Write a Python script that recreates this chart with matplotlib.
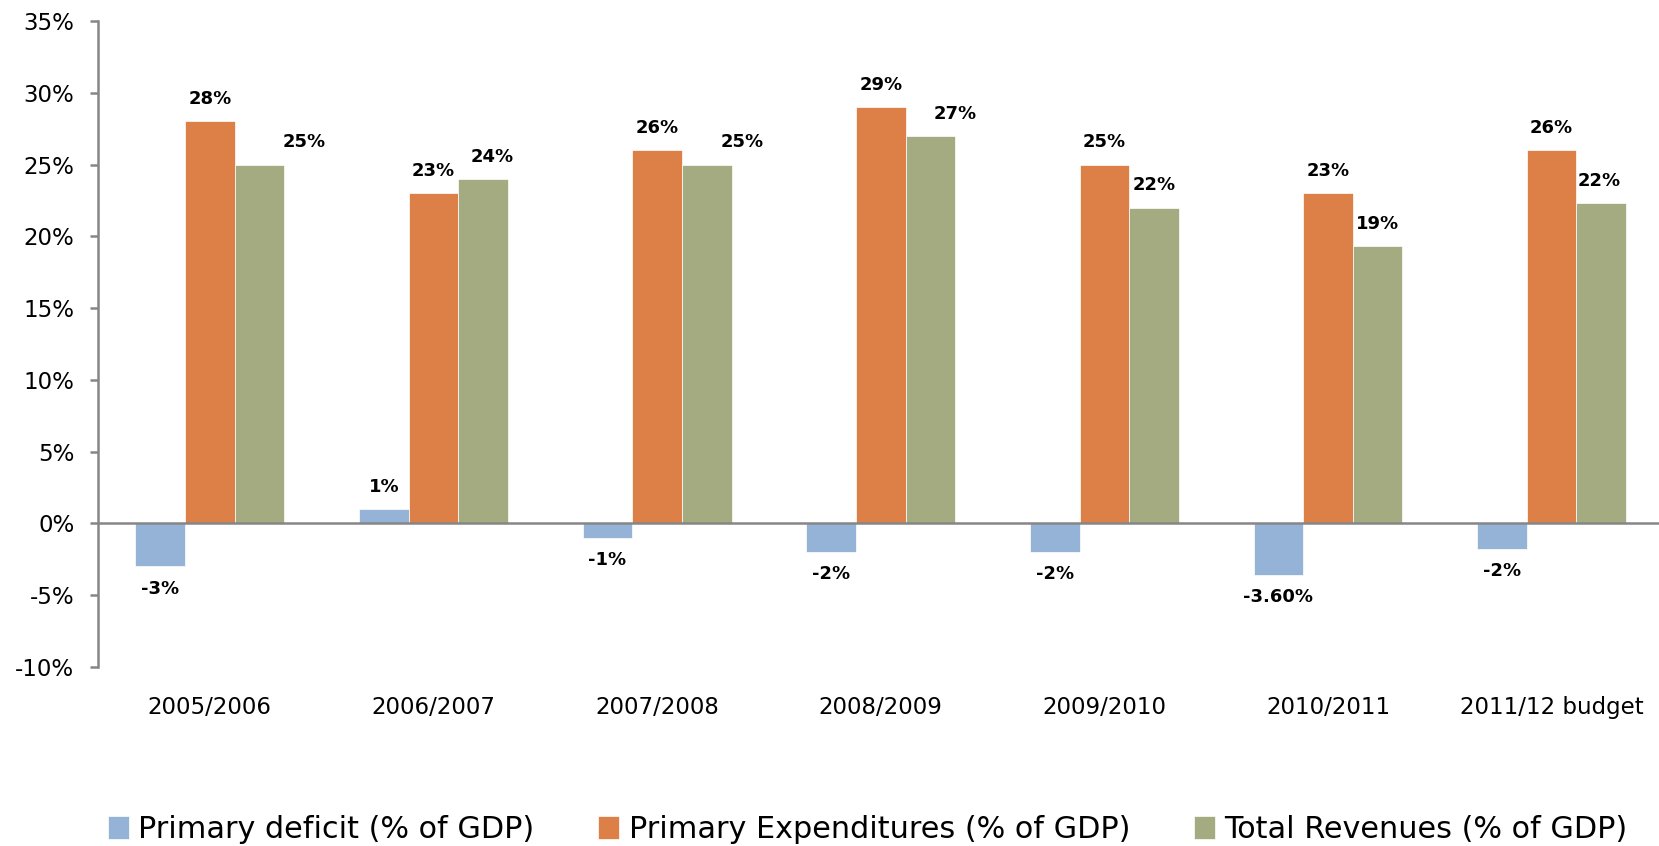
# Import our modules that we are using
import matplotlib
matplotlib.use('Agg')
import matplotlib.pyplot as plt
import numpy as np

# Data
years = ['2005/2006', '2006/2007', '2007/2008', '2008/2009', '2009/2010', '2010/2011', '2011/12 budget']
deficit = [-3.0, 1.0, -1.0, -2.0, -2.0, -3.6, -1.8]
expend = [28, 23, 26, 29, 25, 23, 26]
revenue = [25, 24, 25, 27, 22, 19.3, 22.3]
deficit_lbl = ['-3%', '1%', '-1%', '-2%', '-2%', '-3.60%', '-2%']
expend_lbl = ['28%', '23%', '26%', '29%', '25%', '23%', '26%']
revenue_lbl = ['25%', '24%', '25%', '27%', '22%', '19%', '22%']
yticks = [-10, -5, 0, 5, 10, 15, 20, 25, 30, 35]

# Label nudges (in category units) for the revenue labels
rev_shift = [0.20, 0.04, 0.16, 0.11, 0.0, 0.0, -0.01]

names = ['Primary deficit (% of GDP)', 'Primary Expenditures (% of GDP)', 'Total Revenues (% of GDP)']
colors = ['#95B3D7', '#DD8047', '#A5AB81']
grey = '#868686'

fig = plt.figure(figsize=(16.59, 8.46), dpi=100)
ax = fig.add_axes([0.0591, 0.2116, 0.9409, 0.7636])

x = np.arange(len(years))
w = 0.222
series = [deficit, expend, revenue]
labels = [deficit_lbl, expend_lbl, revenue_lbl]

for k in range(3):
  pos = x + (k - 1) * w
  ax.bar(pos, series[k], w, color=colors[k], edgecolor='white', linewidth=0.5, label=names[k], zorder=2)
  for i in range(len(years)):
    v = series[k][i]
    dx = rev_shift[i] if k == 2 else 0
    off = 16 if v >= 0 else -16
    ax.annotate(labels[k][i], (pos[i] + dx, v), xytext=(0, off), textcoords='offset points',
                ha='center', va='center', fontsize=13, fontweight='bold', color='black')

# Zero line and axis styling
ax.axhline(0, color=grey, lw=1.8, zorder=3)
ax.set_xlim(-0.5, 6.48)
ax.set_ylim(-10, 35)
ax.set_yticks(yticks)
ax.set_yticklabels(['{}%'.format(t) for t in yticks], fontsize=16.5)
ax.set_xticks(x)
ax.set_xticklabels(years, fontsize=16.5)
ax.tick_params(axis='x', length=0, pad=21)
ax.tick_params(axis='y', length=6, width=1.8, color=grey, pad=11)
for s in ['top', 'right', 'bottom']:
  ax.spines[s].set_visible(False)
ax.spines['left'].set_color(grey)
ax.spines['left'].set_linewidth(1.8)

# Add a Legend
fig.legend(loc='lower center', bbox_to_anchor=(0.523, -0.03), ncol=3, frameon=False, fontsize=21.8,
           handlelength=0.7, handleheight=0.8, handletextpad=0.3, columnspacing=2.1)

plt.savefig('out.png', dpi=100)
